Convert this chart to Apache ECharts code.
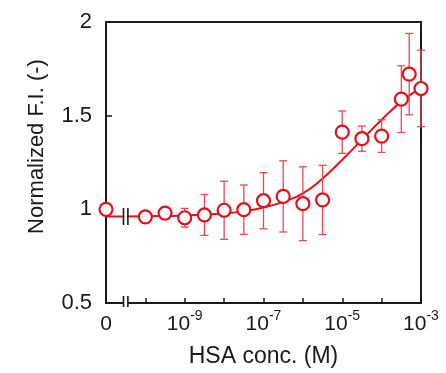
<!DOCTYPE html>
<html>
<head>
<meta charset="utf-8">
<script src="https://cdn.jsdelivr.net/npm/echarts@6/dist/echarts.min.js"></script>
<style>html,body{margin:0;padding:0;background:#fff}#c{width:446px;height:373px}</style>
</head>
<body>
<div id="c"></div>
<script>
// log10 of HSA concentration (M); -11 stands for the "0" point
const pointLogX = [-11, -10, -9.5, -9, -8.5, -8, -7.5, -7, -6.5, -6, -5.5, -5, -4.5, -4, -3.5, -3.3, -3];
const pointY    = [1.0, 0.96, 0.98, 0.955, 0.97, 0.995, 0.998, 1.046, 1.069, 1.03, 1.05, 1.412, 1.377, 1.391, 1.588, 1.722, 1.645];
const pointErr  = [0, 0, 0.03, 0.05, 0.109, 0.155, 0.132, 0.15, 0.19, 0.197, 0.185, 0.113, 0.067, 0.087, 0.178, 0.217, 0.204];
const fitLogX   = [-11, -10.5, -10, -9, -8, -7.5, -7, -6.5, -6, -5.5, -5, -4.5, -4, -3.5, -3];
const fitY      = [0.962, 0.962, 0.963, 0.967, 0.978, 0.99, 1.01, 1.04, 1.085, 1.165, 1.265, 1.372, 1.478, 1.575, 1.65];
const xLabelExp = {'-11': '0', '-9': '-9', '-7': '-7', '-5': '-5', '-3': '-3'};
const yTicks = [0.5, 1, 1.5, 2];

const RED = '#e3101a';
const ERR = '#e84a4f';
const INK = '#1a1a1a';
const FONT = 'Liberation Sans, Arial, sans-serif';

const chart = echarts.init(document.getElementById('c'), null, {renderer: 'canvas'});

const option = {
  animation: false,
  backgroundColor: '#fff',
  grid: {left: 106, right: 25, top: 22, bottom: 67, show: true, borderColor: INK, borderWidth: 2, backgroundColor: 'transparent'},
  xAxis: {
    type: 'value', min: -11, max: -3, interval: 1,
    axisLine: {show: true, lineStyle: {color: INK, width: 2}},
    axisTick: {show: true, inside: true, length: 5, lineStyle: {color: INK, width: 1.5}},
    splitLine: {show: false},
    axisLabel: {
      margin: 6,
      formatter: function (v) {
        const k = String(v);
        if (!(k in xLabelExp)) return '';
        if (xLabelExp[k] === '0') return '{b|0}';
        return '{b|10}{s|' + xLabelExp[k] + '}';
      },
      rich: {
        b: {fontSize: 21, fontFamily: FONT, color: INK, lineHeight: 26, verticalAlign: 'bottom'},
        s: {fontSize: 14, fontFamily: FONT, color: INK, lineHeight: 14, verticalAlign: 'top'}
      }
    },
    name: 'HSA conc. (M)', nameLocation: 'middle', nameGap: 42,
    nameTextStyle: {fontSize: 23, fontFamily: FONT, color: INK}
  },
  yAxis: {
    type: 'value', min: 0.5, max: 2, interval: 0.5,
    axisLine: {show: true, lineStyle: {color: INK, width: 2}},
    axisTick: {show: true, inside: true, length: 6, lineStyle: {color: INK, width: 1.5}},
    splitLine: {show: false},
    axisLabel: {margin: 14, fontSize: 22, fontFamily: FONT, color: INK,
      formatter: function (v) { return yTicks.indexOf(v) >= 0 ? String(v) : ''; }},
    name: 'Normalized F.I. (-)', nameLocation: 'middle', nameGap: 58,
    nameTextStyle: {fontSize: 22, fontFamily: FONT, color: INK, padding: [0, 0, 0, 32]}
  },
  series: [
    {
      type: 'line', data: fitLogX.map((x, i) => [x, fitY[i]]),
      smooth: 0.5, symbol: 'none',
      lineStyle: {color: RED, width: 2}, z: 2
    },
    {
      type: 'custom', z: 3,
      data: pointLogX.map((x, i) => [x, pointY[i], pointErr[i]]),
      renderItem: function (params, api) {
        const x = api.value(0), y = api.value(1), e = api.value(2);
        if (!e) return null;
        const top = api.coord([x, y + e]);
        const bot = api.coord([x, y - e]);
        const cw = 4;
        const st = {stroke: ERR, lineWidth: 1.3};
        return {type: 'group', children: [
          {type: 'line', shape: {x1: top[0], y1: top[1], x2: bot[0], y2: bot[1]}, style: st},
          {type: 'line', shape: {x1: top[0] - cw, y1: top[1], x2: top[0] + cw, y2: top[1]}, style: st},
          {type: 'line', shape: {x1: bot[0] - cw, y1: bot[1], x2: bot[0] + cw, y2: bot[1]}, style: st}
        ]};
      }
    },
    {
      type: 'scatter', z: 5,
      data: pointLogX.map((x, i) => [x, pointY[i]]),
      symbol: 'circle', symbolSize: 13,
      itemStyle: {color: '#fff', borderColor: RED, borderWidth: 2.2, opacity: 1}
    }
  ]
};
chart.setOption(option);

// break marks on the data line and on the x axis
const breakX = -10.5;
const pLine = chart.convertToPixel({gridIndex: 0}, [breakX, fitY[1]]);
const pAxis = chart.convertToPixel({gridIndex: 0}, [breakX, 0.5]);
const half = 2.2;
function breakGroup(p, up, down) {
  return [
    {type: 'rect', shape: {x: p[0] - half, y: p[1] - 3, width: half * 2, height: 6}, style: {fill: '#fff'}, z: 100},
    {type: 'line', shape: {x1: p[0] - half, y1: p[1] - up, x2: p[0] - half, y2: p[1] + down}, style: {stroke: INK, lineWidth: 1.6}, z: 101},
    {type: 'line', shape: {x1: p[0] + half, y1: p[1] - up, x2: p[0] + half, y2: p[1] + down}, style: {stroke: INK, lineWidth: 1.6}, z: 101}
  ];
}
chart.setOption({graphic: breakGroup(pLine, 8.5, 8.5).concat(breakGroup(pAxis, 7, 4))});
</script>
</body>
</html>
